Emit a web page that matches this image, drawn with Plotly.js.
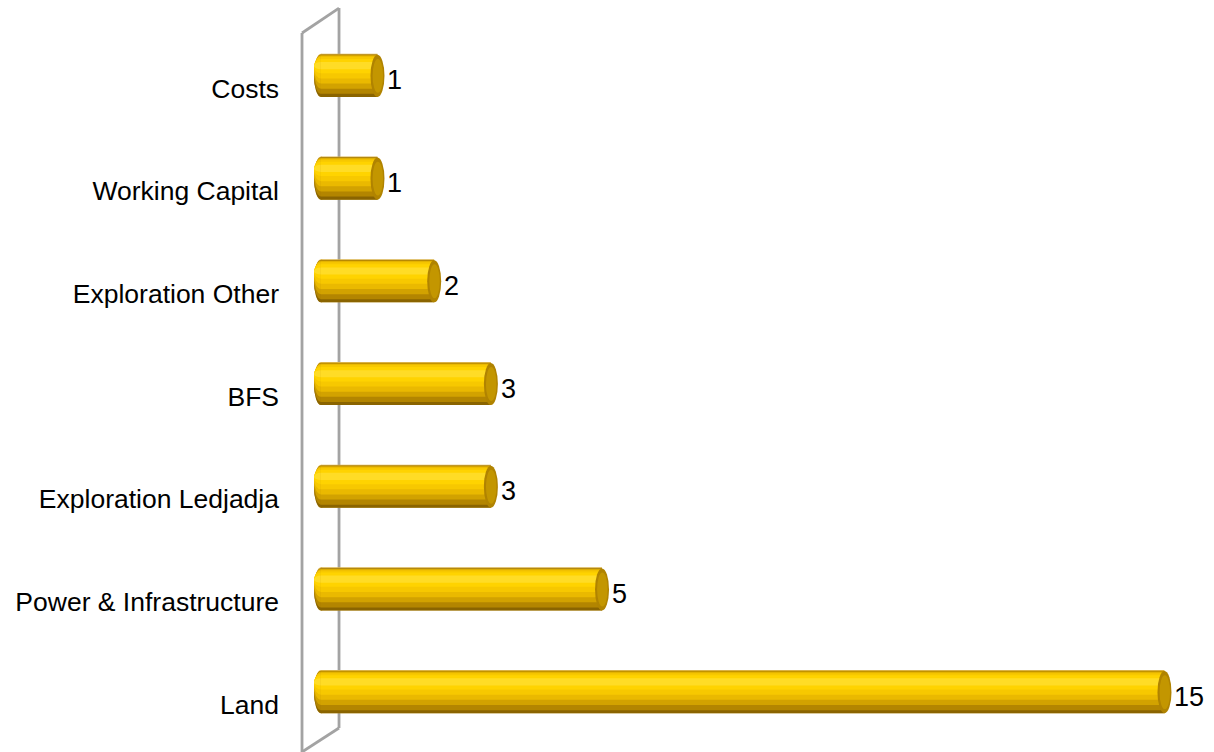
<!DOCTYPE html>
<html>
<head>
<meta charset="utf-8">
<script src="https://cdn.plot.ly/plotly-3.0.1.min.js"></script>
<style>html,body{margin:0;padding:0;background:#fff;}#chart{width:1214px;height:752px;}</style>
</head>
<body>
<div id="chart"></div>
<script>
// Data (top to bottom as shown in the chart)
const categories = ["Costs", "Working Capital", "Exploration Other", "BFS", "Exploration Ledjadja", "Power & Infrastructure", "Land"];
const values = [1.12, 1.12, 2.12, 3.12, 3.12, 5.08, 15.0];

// Cylinder styling (shading bands) - styles only
const capW = 0.247;          // width of elliptical end cap in x units
const half = 0.21;           // half bar thickness in category units
const bands = [
  {y0: -0.21, y1: 0.21,  c: "#D9B24A"},
  {y0: -0.21, y1: 0.20,  c: "#8A6400"},
  {y0: -0.18, y1: 0.20,  c: "#B38500"},
  {y0: -0.13, y1: 0.195, c: "#D2A200"},
  {y0: -0.08, y1: 0.19,  c: "#EAB900"},
  {y0: -0.03, y1: 0.18,  c: "#F7C800"},
  {y0:  0.02, y1: 0.16,  c: "#FFD300"},
  {y0:  0.06, y1: 0.13,  c: "#FFDC26"}
];

const order = categories.slice().reverse();
const idx = c => order.indexOf(c);

const traces = bands.map(b => ({
  type: "bar",
  orientation: "h",
  y: categories,
  x: values.map(v => v - capW / 2),
  offset: b.y0,
  width: b.y1 - b.y0,
  marker: {color: b.c, line: {width: 0}},
  hoverinfo: "skip",
  showlegend: false
}));

const shapes = [];
// 3D wall (decorative, paper coordinates)
const wall = {type: "line", xref: "paper", yref: "paper", layer: "below", line: {color: "#A3A3A3", width: 2.8}};
shapes.push(Object.assign({}, wall, {x0: 0.0022, y0: 0.9875, x1: 0.0022, y1: -0.02}));
shapes.push(Object.assign({}, wall, {x0: 0.0427, y0: 1.0222, x1: 0.0427, y1: 0.0209}));
shapes.push(Object.assign({}, wall, {x0: 0.0022, y0: 0.9875, x1: 0.0427, y1: 1.0222}));
shapes.push(Object.assign({}, wall, {x0: 0.0022, y0: -0.0125, x1: 0.0427, y1: 0.0209}));

// rounded left ends (shaded, behind bars) and right end caps, from the data
categories.forEach((c, i) => {
  const k = idx(c);
  bands.forEach(b => {
    shapes.push({type: "circle", xref: "x", yref: "y", layer: "below",
      x0: -capW / 2, x1: capW / 2, y0: k + b.y0, y1: k + b.y1,
      fillcolor: b.c, line: {width: 0}});
  });
  const v = values[i];
  shapes.push({type: "circle", xref: "x", yref: "y", layer: "above",
    x0: v - capW, x1: v, y0: k - half, y1: k + 0.2,
    fillcolor: "#B08300", line: {width: 0}});
  shapes.push({type: "circle", xref: "x", yref: "y", layer: "above",
    x0: v - capW * 0.85, x1: v - capW * 0.1, y0: k - 0.17, y1: k + 0.16,
    fillcolor: "#C39600", line: {width: 0}});
});

const annotations = categories.map((c, i) => ({
  x: values[i], y: c, xref: "x", yref: "y",
  text: String(Math.round(values[i])),
  showarrow: false, xanchor: "left", yanchor: "middle",
  xshift: 1, yshift: -5,
  font: {family: "Liberation Sans, Arial, sans-serif", size: 27, color: "#000"}
}));

const layout = {
  width: 1214, height: 752,
  margin: {l: 300, r: 0, t: 24, b: 9},
  paper_bgcolor: "#fff", plot_bgcolor: "rgba(0,0,0,0)",
  barmode: "overlay",
  showlegend: false,
  xaxis: {range: [-0.370, 15.75], visible: false, fixedrange: true},
  yaxis: {
    type: "category", categoryorder: "array", categoryarray: order,
    range: [-0.5, 6.5], showgrid: false, zeroline: false, showline: false,
    ticks: "", ticklabelshift: 13, ticklabelstandoff: 20,
    tickfont: {family: "Liberation Sans, Arial, sans-serif", size: 26.5, color: "#000"},
    fixedrange: true
  },
  shapes: shapes,
  annotations: annotations
};

Plotly.newPlot("chart", traces, layout, {displayModeBar: false, staticPlot: true});
</script>
</body>
</html>
